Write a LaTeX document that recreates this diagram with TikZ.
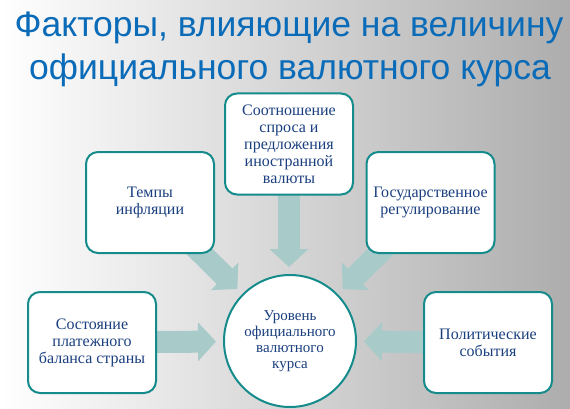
\documentclass[tikz,border=0pt]{standalone}
\usepackage{fontspec}
\setmainfont{Liberation Serif}
\newfontfamily\titlefont{Liberation Sans}
\usetikzlibrary{arrows.meta}
\definecolor{bggray}{HTML}{ADADAD}
\definecolor{titleblue}{HTML}{0A6BB8}
\definecolor{txtblue}{HTML}{1A3F7F}
\definecolor{teal}{HTML}{158B8B}
\definecolor{arrfill}{HTML}{A8CBCA}
\pgfdeclarelayer{bg}
\pgfdeclarelayer{arr}
\pgfsetlayers{bg,arr,main}
\tikzset{
  factorbox/.style={draw=teal, line width=2pt, fill=white, rounded corners=12pt,
    minimum width=128pt, minimum height=101pt, align=center, text=txtblue,
    font=\fontsize{16}{17}\selectfont, inner sep=2pt},
  centerball/.style={draw=teal, line width=2pt, fill=white, circle,
    minimum size=132pt, align=center, text=txtblue,
    font=\fontsize{15}{16}\selectfont, inner sep=0pt},
  titletext/.style={text=titleblue, font=\titlefont\fontsize{35.5}{40}\selectfont, inner sep=0pt, anchor=base},
  blockarrow/.style={arrfill, line width=22pt, shorten >=7pt,
    -{Triangle[width=38pt,length=18pt]}}
}
\begin{document}
\begin{tikzpicture}[x=1pt,y=-1pt]
\begin{pgfonlayer}{bg}
\fill[left color=white, right color=bggray] (0,0) rectangle (570,409);
\end{pgfonlayer}
\node[titletext] (t1) at (289,37) {Факторы, влияющие на величину};
\node[titletext] (t2) at (290,80) {официального валютного курса};

\node[centerball] (c) at (290,341) {Уровень\\официального\\валютного\\курса};
\node[factorbox] (tempy) at (150,202.5) {Темпы\\инфляции};
\node[factorbox] (sootn) at (289,144) {Соотношение\\спроса и\\предложения\\иностранной\\валюты};
\node[factorbox] (gos) at (430.5,202.5) {Государственное\\регулирование};
\node[factorbox] (sost) at (92,342.5) {Состояние\\платежного\\баланса страны};
\node[factorbox] (polit) at (488,342.5) {Политические\\события};

\begin{pgfonlayer}{arr}
\draw[blockarrow] (tempy.center) -- (c);
\draw[blockarrow] (sootn.center) -- (sootn.center |- c.north);
\draw[blockarrow] (gos.center) -- (c);
\draw[blockarrow] (sost.center) -- (c);
\draw[blockarrow] (polit.center) -- (c);
\end{pgfonlayer}
\end{tikzpicture}
\end{document}
